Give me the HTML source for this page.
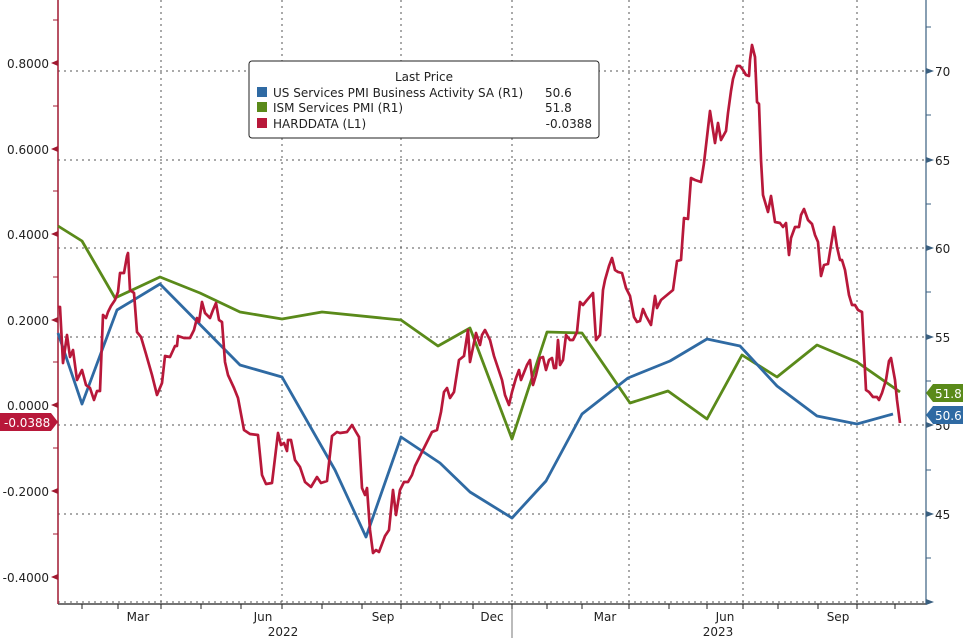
<!DOCTYPE html>
<html><head><meta charset="utf-8"><style>
body{margin:0;background:#fff}
svg{display:block;font-family:"DejaVu Sans","Liberation Sans",sans-serif}
</style></head><body>
<svg width="963" height="638" viewBox="0 0 963 638">
<rect width="963" height="638" fill="#fff"/>
<g stroke="#555" stroke-width="1" stroke-dasharray="2,4" fill="none">
<line x1="58" y1="71" x2="926" y2="71"/><line x1="58" y1="160" x2="926" y2="160"/>
<line x1="58" y1="248" x2="926" y2="248"/><line x1="58" y1="337" x2="926" y2="337"/>
<line x1="58" y1="425" x2="926" y2="425"/><line x1="58" y1="514" x2="926" y2="514"/>
<line x1="58" y1="602" x2="926" y2="602"/>
<line x1="161" y1="0" x2="161" y2="604"/><line x1="282" y1="0" x2="282" y2="604"/>
<line x1="401" y1="0" x2="401" y2="604"/><line x1="512" y1="0" x2="512" y2="604"/>
<line x1="629" y1="0" x2="629" y2="604"/><line x1="743" y1="0" x2="743" y2="604"/>
<line x1="857" y1="0" x2="857" y2="604"/>
</g>
<line x1="58" y1="604" x2="926" y2="604" stroke="#222" stroke-width="1.2"/>
<line x1="512" y1="604" x2="512" y2="638" stroke="#777"/>
<g stroke="#222" stroke-width="1">
<path d="M82 604v5M118 604v5M161 604v5M201 604v5M241 604v5M282 604v5M322 604v5M362 604v5M401 604v5M440 604v5M473 604v5M512 604v5M547 604v5M582 604v5M629 604v5M669 604v5M707 604v5M743 604v5M778 604v5M818 604v5M857 604v5M895 604v5"/>
</g>
<g font-size="12" fill="#222" text-anchor="middle">
<text x="138" y="621">Mar</text><text x="263" y="621">Jun</text><text x="383" y="621">Sep</text>
<text x="492" y="621">Dec</text><text x="605" y="621">Mar</text><text x="725" y="621">Jun</text><text x="838" y="621">Sep</text>
<text x="283" y="636">2022</text><text x="718" y="636">2023</text>
</g>
<line x1="58" y1="0" x2="58" y2="604" stroke="#a01830" stroke-width="1.5"/>
<g stroke="#a01830" stroke-width="1"><path d="M53 20h5M53 106h5M53 191h5M53 277h5M53 362h5M53 448h5M53 534h5"/></g>
<g fill="#a01830"><path d="M51 63l7-3v6zM51 149l7-3v6zM51 234l7-3v6zM51 320l7-3v6zM51 405l7-3v6zM51 491l7-3v6zM51 577l7-3v6z"/></g>
<g font-size="12" fill="#222" text-anchor="end">
<text x="49" y="68">0.8000</text><text x="49" y="154">0.6000</text><text x="49" y="239">0.4000</text>
<text x="49" y="325">0.2000</text><text x="49" y="410">0.0000</text><text x="49" y="496">-0.2000</text><text x="49" y="582">-0.4000</text>
</g>
<line x1="926" y1="0" x2="926" y2="604" stroke="#3a5f80" stroke-width="1.2"/>
<g stroke="#3a5f80"><path d="M926 27h5M926 115h5M926 204h5M926 292h5M926 381h5M926 470h5M926 558h5"/></g>
<g fill="#3a5f80"><path d="M934 71l-8-3v6zM934 160l-8-3v6zM934 248l-8-3v6zM934 337l-8-3v6zM934 425l-8-3v6zM934 514l-8-3v6zM934 602l-8-3v6z"/></g>
<g font-size="12" fill="#222">
<text x="935" y="76">70</text><text x="935" y="165">65</text><text x="935" y="253">60</text>
<text x="935" y="342">55</text><text x="935" y="430">50</text><text x="935" y="519">45</text>
</g>
<g fill="none" stroke-width="2.8" stroke-linejoin="round">
<polyline stroke="#5a8a1a" points="58,226 82,241 115,298 160,277 200,293 240,312 282,319 322,312 401,320 438,346 470,328 512,439 547,332 582,333 630,403 668,391 707,419 742,355 777,377 817,345 857,362 900,392"/>
<polyline stroke="#2f6aa3" points="58,333 82,404 117,310 160,284 240,365 282,377 335,470 366,537 401,437 440,463 470,492 512,518 546,481 582,414 628,378 670,361 707,339 740,346 777,386 817,416 857,424 893,414"/>
<polyline stroke="#b8183a" stroke-width="2.7" points="58,307 60,307 63,363 67,335 70,357 73,350 77,380 82,370 86,385 90,388 94,400 97,391 100,391 103,315 106,318 108,312 111,306 115,300 118,292 120,273 124,273 127,256 128,253 130,290 134,293 137,332 141,337 146,354 152,375 157,395 162,383 165,356 170,357 175,346 177,346 178,336 184,338 190,338 194,330 197,318 199,322 202,302 205,313 210,318 213,310 216,303 219,320 222,322 225,362 228,375 234,388 238,398 244,430 250,434 258,435 262,475 266,484 272,483 278,433 281,445 284,443 287,451 288,440 291,440 295,460 300,467 305,482 311,487 317,477 321,483 327,481 332,436 337,432 340,433 347,432 352,425 356,432 359,437 362,488 365,495 367,488 370,530 373,553 376,550 379,552 385,536 389,530 393,490 396,515 400,490 404,482 408,482 412,475 415,466 419,458 424,448 428,440 432,432 437,430 441,412 444,392 447,388 450,398 454,392 459,360 464,356 468,330 470,362 476,333 480,345 482,335 485,330 490,340 494,356 498,368 502,380 505,395 509,405 512,392 516,378 519,370 521,380 525,370 527,365 530,360 533,385 536,375 540,358 543,357 546,370 549,360 552,358 554,368 556,368 558,340 560,365 563,360 566,335 570,340 573,340 577,332 580,302 583,305 587,300 593,293 596,340 600,335 603,290 605,280 609,266 612,258 615,270 618,272 622,273 626,288 630,296 634,317 637,322 640,321 643,309 646,316 651,325 655,296 657,308 661,300 673,290 677,261 681,260 684,218 688,219 691,178 695,180 701,182 704,163 710,111 715,143 718,123 721,140 726,131 728,113 731,91 733,79 737,66 740,66 743,70 746,75 749,76 750,60 752,45 755,57 757,102 759,104 761,160 763,195 768,212 771,196 775,222 780,223 783,227 786,223 789,255 791,238 795,227 799,227 801,215 804,209 808,220 812,224 815,235 818,242 821,276 824,265 828,264 834,227 837,247 840,260 842,260 845,270 849,295 852,305 855,305 858,310 862,312 866,390 869,392 873,397 877,397 879,400 882,393 886,380 889,361 891,358 895,380 897,400 900,423"/>
</g>
<path d="M926 393l7-9h30v18h-30z" fill="#5a8a1a"/>
<text x="935" y="398" font-size="12" fill="#fff">51.8</text>
<path d="M926 415l7-9h30v18h-30z" fill="#2f6aa3"/>
<text x="935" y="420" font-size="12" fill="#fff">50.6</text>
<path d="M58 422l-7-9h-51v18h51z" fill="#b8183a"/>
<text x="4" y="427" font-size="12" fill="#fff">-0.0388</text>
<rect x="249" y="61" width="350" height="77" rx="3" fill="#fff" stroke="#222" stroke-width="1"/>
<g font-size="12" fill="#222">
<text x="424" y="81" text-anchor="middle">Last Price</text>
<rect x="257" y="87" width="10" height="10" fill="#2f6aa3"/><text x="273" y="97">US Services PMI Business Activity SA  (R1)</text><text x="545" y="97">50.6</text>
<rect x="257" y="102" width="10" height="10" fill="#5a8a1a"/><text x="273" y="112">ISM Services PMI  (R1)</text><text x="545" y="112">51.8</text>
<rect x="257" y="118" width="10" height="10" fill="#b8183a"/><text x="273" y="128">HARDDATA  (L1)</text><text x="592" y="128" text-anchor="end">-0.0388</text>
</g>
</svg>
</body></html>
